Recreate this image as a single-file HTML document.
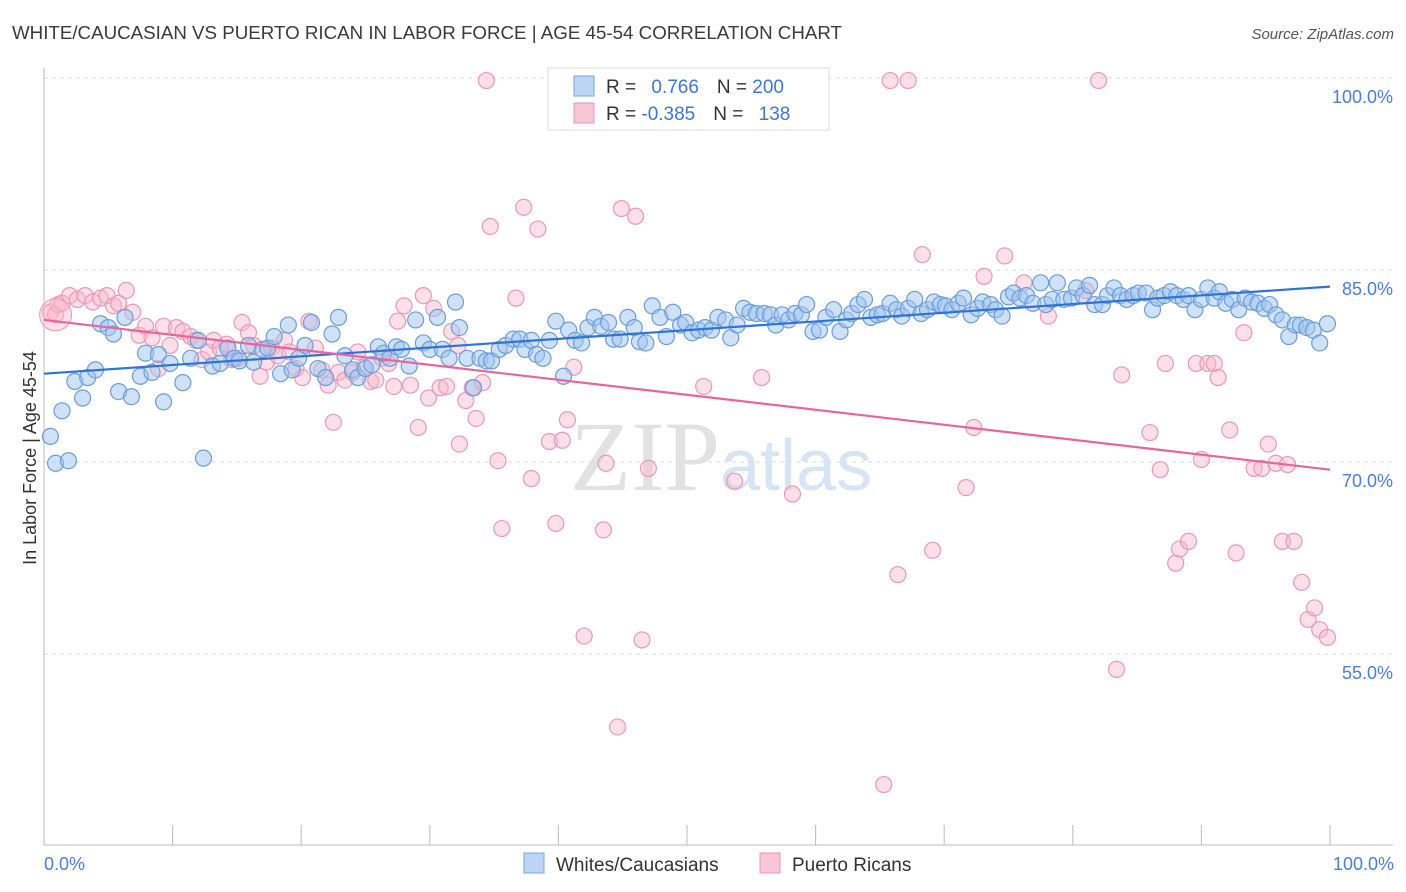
<!DOCTYPE html>
<html><head><meta charset="utf-8"><style>
body{margin:0;background:#fff;font-family:"Liberation Sans",sans-serif;}
#wrap{position:relative;width:1406px;height:892px;overflow:hidden;}
</style></head><body>
<div id="wrap">
<svg id="chart" width="1406" height="892" xmlns="http://www.w3.org/2000/svg">
<text x="12" y="39" font-size="18" fill="#3a3a3a" textLength="830" lengthAdjust="spacingAndGlyphs">WHITE/CAUCASIAN VS PUERTO RICAN IN LABOR FORCE | AGE 45-54 CORRELATION CHART</text>
<text x="1394" y="39" font-size="15" fill="#555" font-style="italic" text-anchor="end">Source: ZipAtlas.com</text>
<text x="720" y="490" font-size="100" fill="#e2e2e2" text-anchor="end" font-family="Liberation Serif,serif">ZIP</text>
<text x="720" y="490" font-size="72" fill="#d7e4f3">atlas</text>
<g id="grid"></g>
<g id="axes"></g>
<g id="pinkPts"></g>
<g id="bluePts"></g>
<g id="trends"></g>
<text x="36" y="458" font-size="18" fill="#333" text-anchor="middle" transform="rotate(-90 36 458)">In Labor Force | Age 45-54</text>
<text x="44" y="870" font-size="18" fill="#4a7fd4">0.0%</text>
<text x="1394" y="870" font-size="18" fill="#4a7fd4" text-anchor="end">100.0%</text>
<g>
<rect x="548" y="68" width="281" height="62" fill="#fff" stroke="#ddd"/>
<rect x="574" y="76" width="20" height="20" fill="#bcd5f5" stroke="#7aa7e0"/>
<rect x="574" y="103" width="20" height="20" fill="#f9c6d5" stroke="#e89ab3"/>
<text x="606" y="93" font-size="19" fill="#333">R = <tspan fill="#3d77d0" dx="10">0.766</tspan><tspan dx="18" fill="#333">N = </tspan><tspan fill="#3d77d0">200</tspan></text>
<text x="606" y="120" font-size="19" fill="#333">R = <tspan fill="#3d77d0">-0.385</tspan><tspan dx="18" fill="#333">N = </tspan><tspan fill="#3d77d0" dx="10">138</tspan></text>
</g>
<g>
<rect x="524" y="853" width="20" height="20" fill="#bcd5f5" stroke="#7aa7e0"/>
<text x="556" y="871" font-size="19" fill="#333">Whites/Caucasians</text>
<rect x="760" y="853" width="20" height="20" fill="#f9c6d5" stroke="#e89ab3"/>
<text x="792" y="871" font-size="19" fill="#333">Puerto Ricans</text>
</g>
</svg>
</div>
<script>
const yTicks=[100,85,70,55];
const yTickLabels=["100.0%","85.0%","70.0%","55.0%"];
const xTicks=[0,10,20,30,40,50,60,70,80,90,100];
const blueX=[0.5,0.9,1.9,1.4,2.4,3.0,3.4,4.0,4.4,5.0,5.4,6.3,5.8,6.8,7.5,7.9,8.4,8.9,9.3,9.8,10.8,11.4,12.0,12.4,13.1,13.7,14.3,14.8,15.2,15.9,16.3,17.0,17.4,17.9,18.4,19.0,19.3,19.8,20.3,20.8,21.3,21.9,22.4,22.9,23.4,24.0,24.4,25.0,25.5,26.0,26.4,26.9,27.4,27.8,28.4,28.9,29.5,30.0,30.6,31.0,31.5,32.0,32.3,32.9,33.4,33.9,34.4,34.8,35.4,35.9,36.5,37.0,37.4,37.9,38.3,38.8,39.3,39.8,40.4,40.8,41.3,41.8,42.3,42.8,43.3,43.9,44.3,44.8,45.4,45.9,46.3,46.8,47.3,47.9,48.4,48.9,49.5,49.9,50.4,50.9,51.4,51.9,52.4,53.0,53.4,53.9,54.4,54.9,55.4,56.0,56.5,56.9,57.4,57.9,58.4,58.9,59.3,59.8,60.3,60.8,61.4,61.9,62.4,62.8,63.3,63.8,64.3,64.8,65.2,65.8,66.3,66.7,67.2,67.7,68.2,68.7,69.2,69.7,70.1,70.6,71.1,71.5,72.1,72.6,73.0,73.6,74.0,74.5,75.0,75.4,75.9,76.4,76.9,77.5,77.9,78.4,78.8,79.3,79.9,80.3,80.8,81.3,81.7,82.3,82.7,83.2,83.7,84.2,84.7,85.1,85.7,86.2,86.6,87.1,87.6,88.1,88.6,89.0,89.5,90.0,90.5,91.0,91.4,91.9,92.4,92.9,93.4,93.9,94.4,94.9,95.3,95.8,96.3,96.8,97.3,97.7,98.2,98.7,99.2,99.8];
const blueY=[72.0,69.9,70.1,74.0,76.3,75.0,76.6,77.2,80.8,80.5,80.0,81.3,75.5,75.1,76.7,78.5,77.0,78.4,74.7,77.7,76.2,78.1,79.5,70.3,77.5,77.7,78.9,78.1,77.9,79.1,77.8,78.8,78.9,79.8,76.9,80.7,77.2,78.1,79.1,80.9,77.3,76.6,80.0,81.3,78.3,77.2,76.6,77.3,77.6,79.0,78.5,78.1,79.0,78.8,77.5,81.1,79.3,78.8,81.3,78.8,78.1,82.5,80.5,78.1,75.8,78.1,77.9,77.9,78.8,79.1,79.6,79.6,78.8,79.5,78.4,78.1,79.5,81.0,76.7,80.3,79.5,79.3,80.5,81.3,80.6,80.9,79.6,79.6,81.3,80.5,79.4,79.3,82.2,81.3,79.8,81.7,80.7,80.9,80.1,80.3,80.5,80.3,81.3,81.1,79.7,80.7,82.0,81.7,81.6,81.6,81.5,80.7,81.5,81.1,81.6,81.5,82.3,80.2,80.3,81.3,81.9,80.2,81.1,81.6,82.3,82.7,81.3,81.5,81.6,82.4,81.9,81.4,82.0,82.7,81.6,81.9,82.5,82.3,82.2,81.9,82.4,82.8,81.5,82.0,82.5,82.3,81.9,81.4,82.9,83.2,82.8,83.0,82.4,84.0,82.3,82.7,84.0,82.7,82.8,83.6,83.0,83.8,82.3,82.3,83.0,83.6,83.0,82.7,83.0,83.2,83.2,81.9,82.8,83.0,83.3,83.0,82.7,83.0,81.9,82.7,83.6,82.8,83.3,82.4,82.7,81.9,82.8,82.5,82.4,82.0,82.3,81.5,81.1,79.8,80.7,80.7,80.5,80.3,79.3,80.8];
const pinkX=[0.5,0.9,1.1,1.4,2.0,2.6,3.2,3.8,4.4,4.9,5.4,5.8,6.4,6.9,7.4,7.9,8.4,8.9,9.3,9.8,10.3,10.8,11.4,11.8,12.3,12.8,13.2,13.7,14.2,14.6,15.1,15.4,15.9,16.3,16.8,17.3,17.7,18.2,18.7,19.1,19.6,20.1,20.6,21.1,21.6,22.1,22.5,22.9,23.4,24.0,24.4,24.9,25.4,25.8,26.3,26.8,27.2,27.5,28.0,28.5,29.1,29.5,29.9,30.3,30.8,31.3,31.7,32.2,32.3,32.8,33.3,33.6,34.1,34.4,34.7,35.3,35.6,36.7,37.3,37.9,38.4,39.3,39.8,40.3,40.7,41.2,42.0,43.5,43.7,44.6,44.9,46.0,46.5,47.0,51.3,53.7,55.8,58.2,65.3,65.8,66.4,67.2,68.3,69.1,71.7,72.3,73.1,74.7,76.2,78.1,81.0,82.0,83.4,83.8,86.0,86.8,87.2,88.0,88.3,89.0,89.6,90.0,90.5,91.0,91.3,92.2,92.7,93.3,94.1,94.7,95.2,95.8,96.3,96.7,97.2,97.8,98.3,98.8,99.2,99.8];
const pinkY=[81.7,81.5,82.3,82.4,83.0,82.7,83.0,82.5,82.8,83.0,82.2,82.4,83.4,81.7,79.9,80.6,79.7,77.3,80.6,79.1,80.5,80.2,79.8,79.5,78.0,78.6,79.5,78.9,79.2,78.0,78.1,80.9,80.1,79.1,76.7,77.8,78.9,78.3,79.5,78.6,77.3,76.6,81.0,78.9,77.2,76.0,73.1,77.0,76.4,77.0,78.6,77.4,76.3,76.4,78.1,77.7,75.9,81.0,82.2,76.0,72.7,83.0,75.0,82.0,75.8,75.9,80.2,79.1,71.4,74.8,75.8,73.4,76.2,99.8,88.4,70.1,64.8,82.8,89.9,68.7,88.2,71.6,65.2,71.7,73.3,77.4,56.4,64.7,69.9,49.3,89.8,89.2,56.1,69.5,75.9,68.5,76.6,67.5,44.8,99.8,61.2,99.8,86.2,63.1,68.0,72.7,84.5,86.1,84.0,81.4,83.4,99.8,53.8,76.8,72.3,69.4,77.7,62.1,63.2,63.8,77.7,70.2,77.7,77.7,76.6,72.5,62.9,80.1,69.5,69.5,71.4,69.9,63.8,69.8,63.8,60.6,57.7,58.6,56.9,56.3];
const blueTrend=[76.9,83.7];
const pinkTrend=[81.1,69.4];
const NS="http://www.w3.org/2000/svg";
function sx(v){return 44+v*12.86;}
function sy(v){return 78+(100-v)*12.8;}
function mk(tag,attrs,parent){const e=document.createElementNS(NS,tag);for(const k in attrs)e.setAttribute(k,attrs[k]);parent.appendChild(e);return e;}
const grid=document.getElementById('grid');
yTicks.forEach((t,i)=>{
  const l=mk('line',{x1:44,x2:1393,y1:sy(t),y2:sy(t),stroke:'#ddd','stroke-dasharray':'4,4'},grid);
  
  
  const tx=mk('text',{x:1393,y:sy(t)+25,'font-size':18,fill:'#4a7fd4','text-anchor':'end'},grid);
  tx.textContent=yTickLabels[i];
  
  
});
const axes=document.getElementById('axes');
const ya=mk('line',{x1:44,x2:44,y1:68,y2:845,stroke:'#bbb'},axes);


const xa=mk('line',{x1:44,x2:1393,y1:845,y2:845,stroke:'#bbb'},axes);


xTicks.forEach(t=>{
  const l=mk('line',{x1:sx(t),x2:sx(t),y1:825,y2:845,stroke:'#bbb'},axes);
  
  
});
function pts(xs,ys,g,fill,stroke,name){
  xs.forEach((x,i)=>{
    const c=mk('circle',{cx:sx(x),cy:sy(ys[i]),r:8,fill:fill,stroke:stroke,'stroke-width':1.2},g);
    
    
  });
}
pts(pinkX,pinkY,document.getElementById('pinkPts'),'rgba(248,185,205,0.45)','#e99ab4','puerto-rican-point');
pts(blueX,blueY,document.getElementById('bluePts'),'rgba(160,195,240,0.5)','#6a9ddc','white-point');
const big=mk('circle',{cx:sx(pinkX[1]),cy:sy(pinkY[1]),r:16,fill:'rgba(248,185,205,0.45)',stroke:'#e99ab4'},document.getElementById('pinkPts'));


const tr=document.getElementById('trends');
const bl=mk('line',{x1:sx(0),y1:sy(blueTrend[0]),x2:sx(100),y2:sy(blueTrend[1]),stroke:'#2f73d6','stroke-width':2.2},tr);


const pl=mk('line',{x1:sx(0),y1:sy(pinkTrend[0]),x2:sx(100),y2:sy(pinkTrend[1]),stroke:'#e8659a','stroke-width':2.2},tr);


</script>
</body></html>
